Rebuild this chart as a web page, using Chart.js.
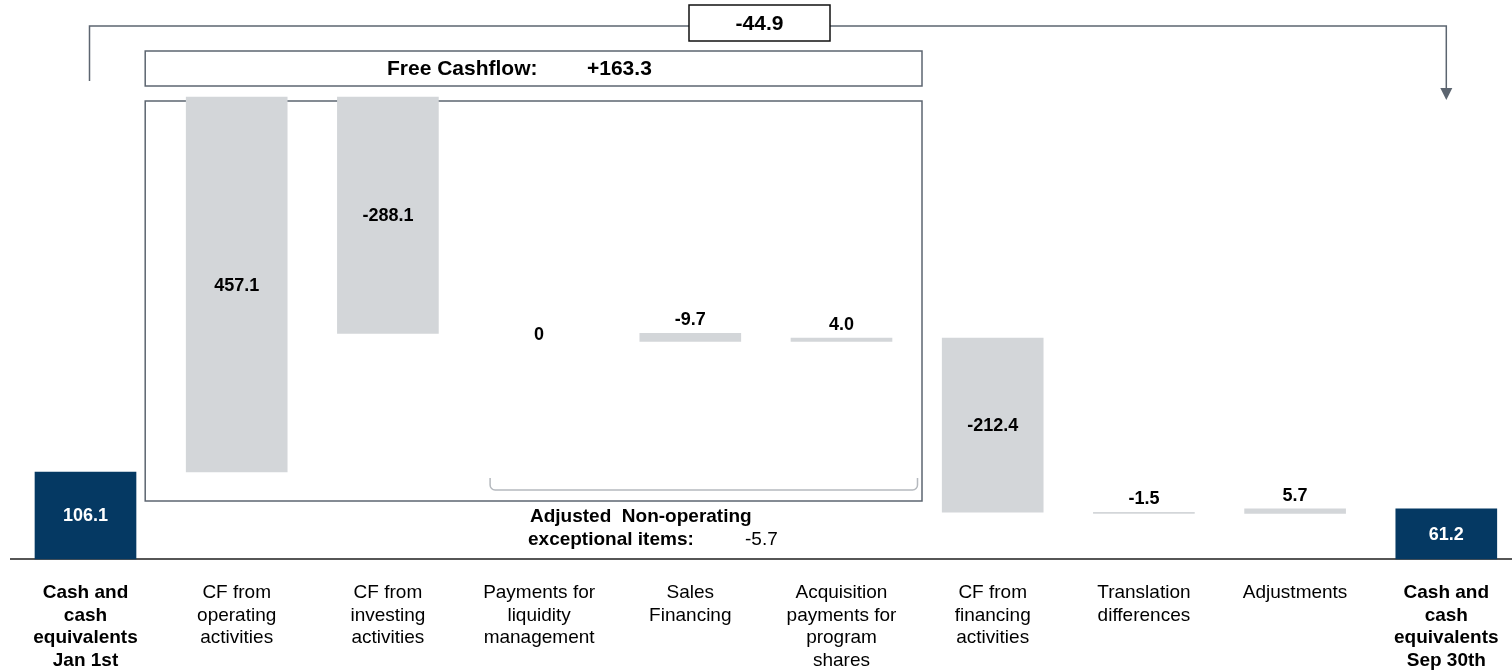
<!DOCTYPE html>
<html>
<head>
<meta charset="utf-8">
<script src="https://cdn.jsdelivr.net/npm/chart.js@4.4.1/dist/chart.umd.min.js"></script>
<style>
  html, body { margin: 0; padding: 0; background: #fff; }
  #wrap { width: 1512px; height: 671px; position: relative; }
</style>
</head>
<body>
<div id="wrap"><canvas id="cashflow"></canvas></div>
<script>
const categories = [
  ['Cash and', 'cash', 'equivalents', 'Jan 1st'],
  ['CF from', 'operating', 'activities'],
  ['CF from', 'investing', 'activities'],
  ['Payments for', 'liquidity', 'management'],
  ['Sales', 'Financing'],
  ['Acquisition', 'payments for', 'program', 'shares'],
  ['CF from', 'financing', 'activities'],
  ['Translation', 'differences'],
  ['Adjustments'],
  ['Cash and', 'cash', 'equivalents', 'Sep 30th']
];
const values = [106.1, 457.1, -288.1, 0, -9.7, 4.0, -212.4, -1.5, 5.7, 61.2];
const totalIdx = [0, 9];
const freeCashflowIdx = [1, 2, 3, 4, 5];
const nonOperatingIdx = [3, 4, 5];

const FONT = '"Liberation Sans", Arial, sans-serif';
const NAVY = '#053963';
const GREY = '#d3d6d9';
const LINE = '#5c6570';

// running total -> floating bar ranges
let run = 0;
const ranges = values.map((v, i) => {
  if (totalIdx.includes(i)) { run = v; return [0, v]; }
  const r = [run, run + v];
  run += v;
  return r;
});

const sum = idx => idx.reduce((a, i) => a + values[i], 0);
const fmt = v => Math.abs(v) < 1e-9 ? '0' : v.toFixed(1);
const signed = v => (v > 0 ? '+' : '') + fmt(v);

const freeCashflow = sum(freeCashflowIdx);
const nonOperating = sum(nonOperatingIdx);
const netChange = values[9] - values[0];

function line(ctx, pts) {
  ctx.beginPath();
  ctx.moveTo(pts[0][0], pts[0][1]);
  for (let k = 1; k < pts.length; k++) ctx.lineTo(pts[k][0], pts[k][1]);
  ctx.stroke();
}

// frames, brackets and captions around the bars
const overlay = {
  id: 'overlay',
  beforeDatasetsDraw(chart) {
    const { ctx, scales: { x, y } } = chart;
    const base = y.getPixelForValue(0);
    ctx.save();

    ctx.strokeStyle = '#1e1e1e';
    ctx.lineWidth = 1.5;
    line(ctx, [[10, base], [chart.width, base]]);

    // free cashflow frame
    const fl = x.getPixelForValue(1) - 91.5;
    const fr = x.getPixelForValue(5) + 80.5;
    ctx.strokeStyle = LINE;
    ctx.lineWidth = 1.5;
    ctx.strokeRect(fl, 101, fr - fl, 400);
    ctx.strokeRect(fl, 51, fr - fl, 35);

    // net change bracket with arrow
    const x0 = x.getPixelForValue(0) + 4;
    const x9 = x.getPixelForValue(9);
    line(ctx, [[x0, 81], [x0, 26], [x9, 26], [x9, 89]]);
    ctx.fillStyle = LINE;
    ctx.beginPath();
    ctx.moveTo(x9 - 6, 88);
    ctx.lineTo(x9 + 6, 88);
    ctx.lineTo(x9, 100);
    ctx.closePath();
    ctx.fill();

    ctx.fillStyle = '#fff';
    ctx.fillRect(689, 5, 141, 36);
    ctx.strokeStyle = '#111';
    ctx.strokeRect(689, 5, 141, 36);

    // bracket under the non-operating items
    const bl = x.getPixelForValue(3) - 49;
    const br = x.getPixelForValue(5) + 76;
    ctx.strokeStyle = '#b5b9be';
    ctx.lineWidth = 1.5;
    ctx.beginPath();
    ctx.moveTo(bl, 478);
    ctx.arcTo(bl, 490, bl + 12, 490, 5);
    ctx.arcTo(br, 490, br, 478, 5);
    ctx.lineTo(br, 478);
    ctx.stroke();

    // captions
    ctx.fillStyle = '#000';
    ctx.textBaseline = 'middle';
    ctx.textAlign = 'center';
    ctx.font = 'bold 21px ' + FONT;
    ctx.fillText(fmt(netChange), 759.5, 24);
    ctx.textAlign = 'left';
    ctx.fillText('Free Cashflow:', 387, 69);
    ctx.fillText(signed(freeCashflow), 587, 69);
    ctx.font = 'bold 19px ' + FONT;
    ctx.fillText('Adjusted  Non-operating', 530, 517);
    ctx.fillText('exceptional items:', 528, 540);
    ctx.font = '19px ' + FONT;
    ctx.fillText(fmt(nonOperating), 745, 540);
    ctx.restore();
  },
  afterDatasetsDraw(chart) {
    const { ctx } = chart;
    const bars = chart.getDatasetMeta(0).data;
    ctx.save();
    ctx.font = 'bold 18px ' + FONT;
    ctx.textAlign = 'center';
    ctx.textBaseline = 'middle';
    bars.forEach((bar, i) => {
      const top = Math.min(bar.y, bar.base);
      const bottom = Math.max(bar.y, bar.base);
      let ly;
      if (values[i] === 0) ly = top + 2;
      else if (bottom - top > 30) ly = (top + bottom) / 2 + 1;
      else ly = top - 13;
      ctx.fillStyle = totalIdx.includes(i) ? '#fff' : '#000';
      ctx.fillText(fmt(values[i]), bar.x, ly);
    });
    ctx.restore();
  }
};

new Chart(document.getElementById('cashflow'), {
  type: 'bar',
  data: {
    labels: categories,
    datasets: [{
      data: ranges,
      backgroundColor: values.map((v, i) =>
        totalIdx.includes(i) ? NAVY : (v === 0 ? 'rgba(0,0,0,0)' : GREY)),
      borderWidth: 0,
      borderSkipped: false,
      barThickness: 101,
      clip: false
    }]
  },
  options: {
    responsive: true,
    maintainAspectRatio: false,
    animation: false,
    layout: { padding: { left: 85.5, right: 65.7, top: 67, bottom: 0 } },
    plugins: { legend: { display: false }, tooltip: { enabled: false } },
    scales: {
      x: {
        offset: false,
        grid: { display: false, drawTicks: false },
        border: { display: false },
        afterFit: s => {
          s.height = 112;
          s.paddingLeft = 0;
          s.paddingRight = 0;
        },
        ticks: {
          autoSkip: false,
          maxRotation: 0,
          padding: 23,
          color: '#000',
          font: c => ({
            family: FONT,
            size: 19,
            lineHeight: 1.18,
            weight: (c.index === 0 || c.index === 9) ? 'bold' : 'normal'
          })
        }
      },
      y: {
        display: false,
        min: 0,
        max: 600
      }
    }
  },
  plugins: [overlay]
});
</script>
</body>
</html>
